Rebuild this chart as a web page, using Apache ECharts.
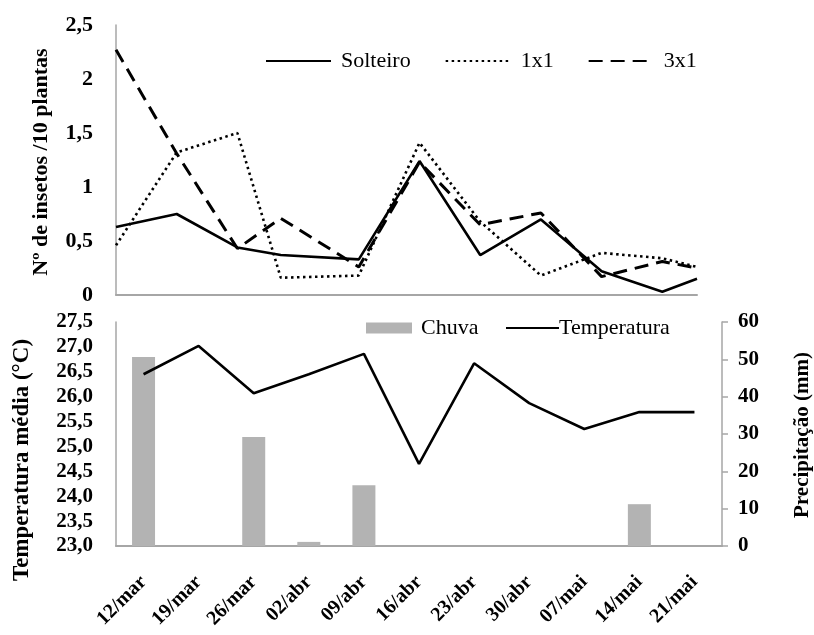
<!DOCTYPE html>
<html>
<head>
<meta charset="utf-8">
<script src="https://cdn.jsdelivr.net/npm/echarts@6/dist/echarts.min.js"></script>
<style>
  html, body { margin: 0; padding: 0; background: #fff; }
  #chart { width: 814px; height: 635px; }
</style>
</head>
<body>
<div id="chart"></div>
<script>
// Insect counts per sampling date (days since 12/mar)
const dias = [0, 7, 14, 19, 28, 35, 42, 49, 56, 63, 67];
const solteiro = [0.63, 0.75, 0.44, 0.37, 0.33, 1.24, 0.37, 0.70, 0.22, 0.03, 0.15];
const umPorUm = [0.46, 1.32, 1.50, 0.16, 0.18, 1.41, 0.68, 0.18, 0.39, 0.34, 0.26];
const tresPorUm = [2.27, 1.31, 0.43, 0.71, 0.26, 1.23, 0.65, 0.76, 0.17, 0.31, 0.25];

// Weekly weather
const semanas = ['12/mar', '19/mar', '26/mar', '02/abr', '09/abr', '16/abr', '23/abr', '30/abr', '07/mai', '14/mai', '21/mai'];
const chuva = [50.6, 0, 29.2, 1.1, 16.3, 0, 0, 0, 0, 11.2, 0];
const temperatura = [26.45, 27.02, 26.07, 26.45, 26.86, 24.65, 26.67, 25.87, 25.35, 25.69, 25.69];

const FONT = "'Liberation Serif', 'Times New Roman', serif";
const AXIS_GRAY = '#a6a6a6';
const BAR_GRAY = '#b3b3b3';

const comma = v => String(v).replace('.', ',');
const comma1 = v => v.toFixed(1).replace('.', ',');
const pairs = ys => dias.map((d, i) => [d, ys[i]]);

const tickLabel = { fontFamily: FONT, fontWeight: 'bold', fontSize: 22, color: '#000' };
const legendText = { fontFamily: FONT, fontSize: 22, color: '#000' };

const chart = echarts.init(document.getElementById('chart'), null, { renderer: 'canvas' });

chart.setOption({
  animation: false,
  backgroundColor: '#fff',
  grid: [
    { left: 116, top: 25, width: 581, height: 270 },
    { left: 116, top: 322, width: 606, height: 224 }
  ],
  legend: [
    {
      data: ['Solteiro', '1x1', '3x1'],
      left: 265, top: 50, padding: 0,
      itemWidth: 65, itemHeight: 14, itemGap: 34,
      itemStyle: { opacity: 0 },
      textStyle: Object.assign({ padding: [0, 0, 0, 5] }, legendText)
    },
    {
      data: [{ name: 'Chuva', icon: 'rect' }],
      left: 366, top: 317, padding: 0,
      itemWidth: 46, itemHeight: 11,
      textStyle: Object.assign({ padding: [0, 0, 0, 4] }, legendText)
    },
    {
      data: ['Temperatura'],
      left: 505, top: 317, padding: 0,
      itemWidth: 53, itemHeight: 14,
      itemStyle: { opacity: 0 },
      textStyle: Object.assign({ padding: [0, 0, 0, -5] }, legendText)
    }
  ],
  xAxis: [
    {
      gridIndex: 0, type: 'value', min: 0, max: 67,
      axisLine: { show: true, lineStyle: { color: AXIS_GRAY, width: 2 } },
      axisTick: { show: false }, axisLabel: { show: false }, splitLine: { show: false }
    },
    {
      gridIndex: 1, type: 'category', data: semanas,
      axisLine: { show: true, lineStyle: { color: AXIS_GRAY, width: 2 } },
      axisTick: { show: false },
      axisLabel: Object.assign({ rotate: 45, margin: 33, interval: 0 }, tickLabel, { fontSize: 20 }),
      splitLine: { show: false }
    }
  ],
  yAxis: [
    {
      gridIndex: 0, type: 'value', min: 0, max: 2.5, interval: 0.5,
      axisLine: { show: true, lineStyle: { color: AXIS_GRAY, width: 1.5 } },
      axisTick: { show: false }, splitLine: { show: false },
      axisLabel: Object.assign({ margin: 23, formatter: comma }, tickLabel)
    },
    {
      gridIndex: 1, type: 'value', min: 23, max: 27.5, interval: 0.5,
      axisLine: { show: true, lineStyle: { color: AXIS_GRAY, width: 1.5 } },
      axisTick: { show: false }, splitLine: { show: false },
      axisLabel: Object.assign({ margin: 23, formatter: comma1 }, tickLabel, { fontSize: 21 })
    },
    {
      gridIndex: 1, type: 'value', position: 'right', min: 0, max: 60, interval: 10,
      axisLine: { show: true, lineStyle: { color: AXIS_GRAY, width: 1.5 } },
      axisTick: { show: true, inside: false, length: 6, lineStyle: { color: AXIS_GRAY, width: 1.5 } },
      splitLine: { show: false },
      axisLabel: Object.assign({ margin: 16 }, tickLabel, { fontSize: 21 })
    }
  ],
  series: [
    {
      name: 'Solteiro', type: 'line', xAxisIndex: 0, yAxisIndex: 0,
      data: pairs(solteiro), symbol: 'none',
      lineStyle: { color: '#000', width: 2.6 }, itemStyle: { color: '#000' }
    },
    {
      name: '1x1', type: 'line', xAxisIndex: 0, yAxisIndex: 0,
      data: pairs(umPorUm), symbol: 'none',
      lineStyle: { color: '#000', width: 2.6, type: [2.5, 3.5] }, itemStyle: { color: '#000' }
    },
    {
      name: '3x1', type: 'line', xAxisIndex: 0, yAxisIndex: 0,
      data: pairs(tresPorUm), symbol: 'none',
      lineStyle: { color: '#000', width: 3, type: [14, 8] }, itemStyle: { color: '#000' }
    },
    {
      name: 'Chuva', type: 'bar', xAxisIndex: 1, yAxisIndex: 2,
      data: chuva, barWidth: 23,
      itemStyle: { color: BAR_GRAY }
    },
    {
      name: 'Temperatura', type: 'line', xAxisIndex: 1, yAxisIndex: 1,
      data: temperatura, symbol: 'none',
      lineStyle: { color: '#000', width: 2.6 }, itemStyle: { color: '#000' }
    }
  ],
  graphic: [
    {
      type: 'text', x: 41, y: 162, rotation: Math.PI / 2,
      style: { text: 'Nº de insetos /10 plantas', fontFamily: FONT, fontWeight: 'bold', fontSize: 22,
               fill: '#000', align: 'center', verticalAlign: 'middle' }
    },
    {
      type: 'text', x: 22, y: 460, rotation: Math.PI / 2,
      style: { text: 'Temperatura média (°C)', fontFamily: FONT, fontWeight: 'bold', fontSize: 23,
               fill: '#000', align: 'center', verticalAlign: 'middle' }
    },
    {
      type: 'text', x: 803, y: 435, rotation: Math.PI / 2,
      style: { text: 'Precipitação (mm)', fontFamily: FONT, fontWeight: 'bold', fontSize: 21,
               fill: '#000', align: 'center', verticalAlign: 'middle' }
    }
  ]
});
</script>
</body>
</html>
